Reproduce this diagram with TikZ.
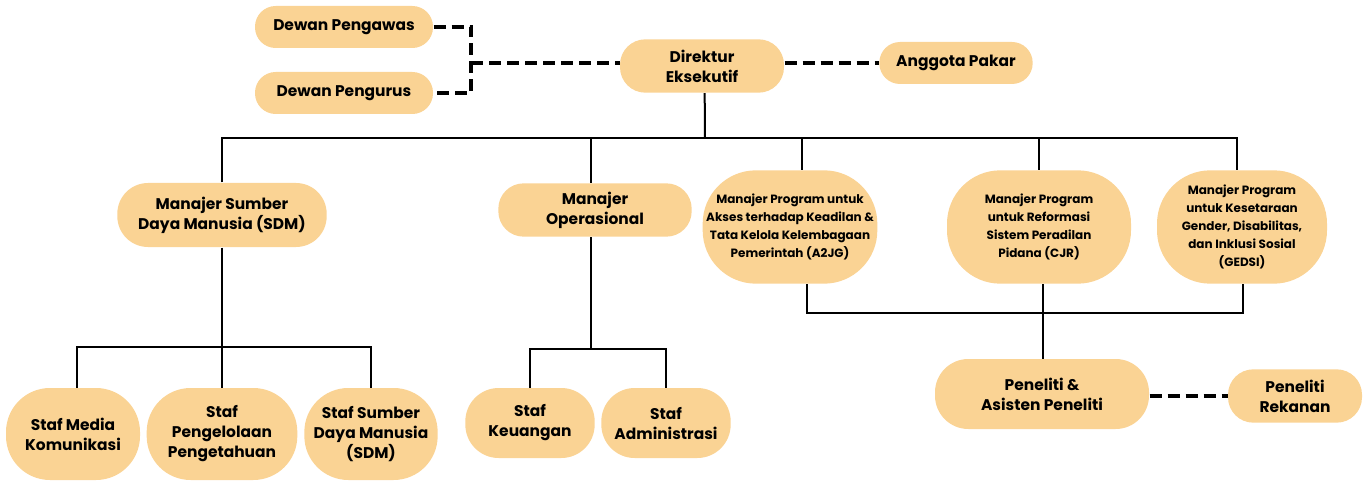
\documentclass[tikz,border=0pt]{standalone}
\usepackage{fontspec}
\setmainfont{Poppins}
\definecolor{boxfill}{RGB}{250,211,148}
\tikzset{every picture/.style={line width=0.75pt}}
\tikzset{
  orgbox/.style={fill=boxfill, draw=none, align=center, inner sep=0pt, font=\fontsize{11.6}{15}\selectfont\bfseries},
  smallbox/.style={orgbox, font=\fontsize{9}{13.5}\selectfont\bfseries},
  orgline/.style={draw=black, line width=1.5pt},
  dashline/.style={draw=black, line width=3pt, dash pattern=on 9pt off 4.5pt}
}

\begin{document}
\begin{tikzpicture}[x=0.75pt,y=0.75pt,yscale=-1,xscale=1]
\useasboundingbox (0,0) rectangle (1367,481);

% Text Node
\node [orgbox, minimum width=133.5pt, minimum height=31.5pt, rounded corners=15.5pt] (dpengawas) at (344,27) {Dewan Pengawas};
% Text Node
\node [orgbox, minimum width=133.5pt, minimum height=31.5pt, rounded corners=15.5pt] (dpengurus) at (344,93) {Dewan Pengurus};
% Text Node
\node [orgbox, minimum width=123pt, minimum height=40pt, rounded corners=19pt] (dir) at (702,66) {Direktur\\Eksekutif};
% Text Node
\node [orgbox, minimum width=115pt, minimum height=31.5pt, rounded corners=15.5pt] (pakar) at (956,63) {Anggota Pakar};
% Text Node
\node [orgbox, minimum width=157pt, minimum height=48pt, rounded corners=23pt] (msdm) at (222,215) {Manajer Sumber\\Daya Manusia (SDM)};
% Text Node
\node [orgbox, minimum width=145pt, minimum height=40pt, rounded corners=19pt] (mops) at (595,210) {Manajer\\Operasional};
% Text Node
\node [smallbox, minimum width=131pt, minimum height=85pt, rounded corners=40pt] (ma2jg) at (790,227) {Manajer Program untuk\\Akses terhadap Keadilan \&\\Tata Kelola Kelembagaan\\Pemerintah (A2JG)};
% Text Node
\node [smallbox, minimum width=138pt, minimum height=85pt, rounded corners=40pt] (mcjr) at (1039,227) {Manajer Program\\untuk Reformasi\\Sistem Peradilan\\Pidana (CJR)};
% Text Node
\node [smallbox, minimum width=127.5pt, minimum height=85pt, rounded corners=40pt] (mgedsi) at (1242,227) {Manajer Program\\untuk Kesetaraan\\Gender, Disabilitas,\\dan Inklusi Sosial\\(GEDSI)};
% Text Node
\node [orgbox, minimum width=100.5pt, minimum height=69pt, rounded corners=33pt] (smedia) at (73,434) {Staf Media\\Komunikasi};
% Text Node
\node [orgbox, minimum width=113pt, minimum height=69pt, rounded corners=33pt] (speng) at (222,434) {Staf\\Pengelolaan\\Pengetahuan};
% Text Node
\node [orgbox, minimum width=100pt, minimum height=69pt, rounded corners=33pt] (ssdm) at (371,434) {Staf Sumber\\Daya Manusia\\(SDM)};
% Text Node
\node [orgbox, minimum width=97pt, minimum height=52.5pt, rounded corners=25pt] (skeu) at (530,423) {Staf\\Keuangan};
% Text Node
\node [orgbox, minimum width=97pt, minimum height=52.5pt, rounded corners=25pt] (sadm) at (666,423) {Staf\\Administrasi};
% Text Node
\node [orgbox, minimum width=160.5pt, minimum height=52.5pt, rounded corners=25pt] (peneliti) at (1042,394) {Peneliti \&\\Asisten Peneliti};
% Text Node
\node [orgbox, minimum width=100.5pt, minimum height=40pt, rounded corners=19pt] (rekanan) at (1295,396) {Peneliti\\Rekanan};

%Dashed Lines
\coordinate (boardjoin) at (471,63);
\draw [dashline] (dpengawas.east) -| (boardjoin) |- (dpengurus.east);
\draw [dashline] (boardjoin) -- (dir.west |- boardjoin);
\draw [dashline] (dir.east |- pakar.west) -- (pakar.west);
\draw [dashline] (peneliti.east |- rekanan.west) -- (rekanan.west);

%Straight Lines
\coordinate (topbus) at (705,138);
\draw [orgline] ([xshift=2pt]dir.south) -- (topbus);
\draw [orgline] (msdm.north) |- ([xshift=-4pt]mgedsi.north |- topbus) -- ([xshift=-4pt]mgedsi.north);
\draw [orgline] ([xshift=-3pt]mops.north) -- ([xshift=-3pt]mops.north |- topbus);
\draw [orgline] ([xshift=9pt]ma2jg.north) -- ([xshift=9pt]ma2jg.north |- topbus);
\draw [orgline] (mcjr.north) -- (mcjr.north |- topbus);

%Straight Lines
\coordinate (sdmbus) at (222,347);
\draw [orgline] (msdm.south) -- (sdmbus);
\draw [orgline] ([xshift=3pt]smedia.north) |- (ssdm.north |- sdmbus) -- (ssdm.north);
\draw [orgline] (sdmbus) -- (speng.north);

%Straight Lines
\coordinate (opsbus) at (591,349);
\draw [orgline] ([xshift=-3pt]mops.south) -- (opsbus);
\draw [orgline] (skeu.north) |- (sadm.north |- opsbus) -- (sadm.north);

%Straight Lines
\coordinate (progbus) at (1043,313);
\draw [orgline] ([xshift=13pt]ma2jg.south) |- ([xshift=1pt]mgedsi.south |- progbus) -- ([xshift=1pt]mgedsi.south);
\draw [orgline] ([xshift=3pt]mcjr.south) -- ([xshift=3pt]mcjr.south |- peneliti.north);

\end{tikzpicture}
\end{document}
